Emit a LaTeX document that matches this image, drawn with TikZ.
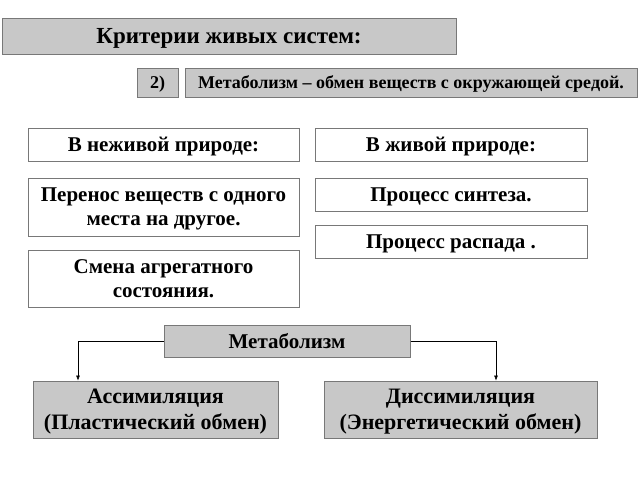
\documentclass[tikz,border=0pt]{standalone}
\usepackage{fontspec}
\setmainfont{Liberation Serif}
\usetikzlibrary{arrows.meta}
\definecolor{boxGray}{RGB}{200,200,200}
\definecolor{edgeGray}{RGB}{120,120,120}
\tikzset{
    graybox/.style={draw=edgeGray, fill=boxGray, line width=1pt, inner sep=0pt, text depth=0pt, font=\bfseries, align=center},
    whitebox/.style={draw=edgeGray, fill=white, line width=1pt, inner sep=0pt, text depth=0pt, font=\bfseries, align=center},
    link/.style={draw=black, line width=0.5pt, -{Latex[length=5pt,width=4pt]}}
}
\begin{document}
\begin{tikzpicture}[x=1pt,y=-1pt]
    \useasboundingbox (0,0) rectangle (640,480);

    % --- Tiêu đề ---
    \node[graybox, minimum width=454pt, minimum height=36pt, font=\bfseries\fontsize{23}{25}\selectfont] (title) at (229,36) {Критерии живых систем:};
    \node[graybox, minimum width=41pt, minimum height=29pt, font=\bfseries\fontsize{18}{20}\selectfont] (num) at (157.5,82.5) {2)};
    \node[graybox, minimum width=452pt, minimum height=29pt, font=\bfseries\fontsize{18}{20}\selectfont] (def) at (411,82.5) {Метаболизм – обмен веществ с окружающей средой.};

    % --- Cột trái ---
    \node[whitebox, minimum width=271pt, minimum height=33pt, font=\bfseries\fontsize{21}{23}\selectfont] (nonliving) at (163.5,144.5) {В неживой природе:};
    \node[whitebox, minimum width=271pt, minimum height=58pt, font=\bfseries\fontsize{21}{24}\selectfont] (transfer) at (163.5,207) {Перенос веществ с одного\\места на другое.};
    \node[whitebox, minimum width=271pt, minimum height=57pt, font=\bfseries\fontsize{21}{24}\selectfont] (phase) at (163.5,278.5) {Смена агрегатного\\состояния.};

    % --- Cột phải ---
    \node[whitebox, minimum width=272pt, minimum height=33pt, font=\bfseries\fontsize{21}{23}\selectfont] (living) at (451,144.5) {В живой природе:};
    \node[whitebox, minimum width=272pt, minimum height=33pt, font=\bfseries\fontsize{21}{23}\selectfont] (synth) at (451,194.5) {Процесс синтеза.};
    \node[whitebox, minimum width=272pt, minimum height=33pt, font=\bfseries\fontsize{21}{23}\selectfont] (decay) at (451,241.5) {Процесс распада .};

    % --- Sơ đồ metabolism ---
    \node[graybox, minimum width=246pt, minimum height=32pt, font=\bfseries\fontsize{21}{23}\selectfont] (meta) at (287,341) {Метаболизм};
    \node[graybox, minimum width=245pt, minimum height=57pt, font=\bfseries\fontsize{22}{26}\selectfont] (assim) at (155.5,409.5) {Ассимиляция\\(Пластический обмен)};
    \node[graybox, minimum width=273pt, minimum height=57pt, font=\bfseries\fontsize{22}{26}\selectfont] (dissim) at (460.5,409.5) {Диссимиляция\\(Энергетический обмен)};

    % Đường nối
    \draw[link] (meta.west) -| (assim.north -| 78,0);
    \draw[link] (meta.east) -| (dissim.north -| 496,0);
\end{tikzpicture}
\end{document}
